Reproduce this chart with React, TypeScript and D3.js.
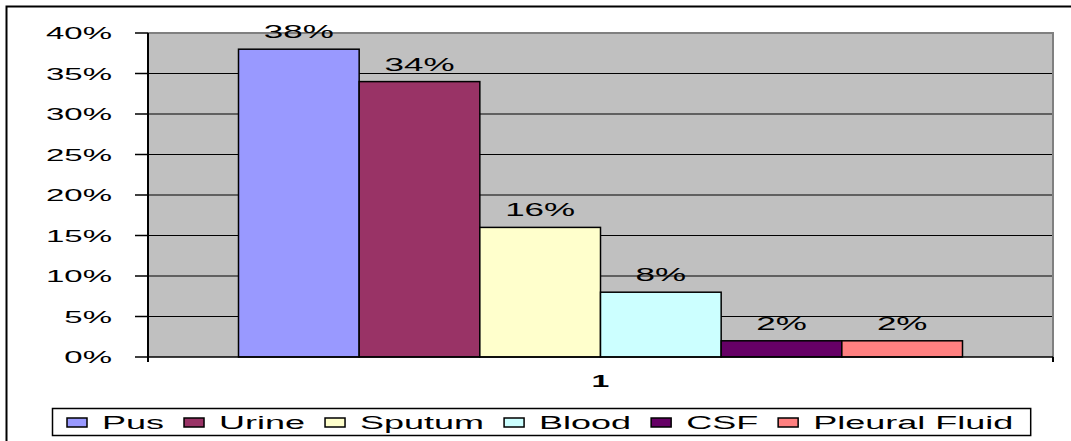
import * as d3 from "d3"
import { useEffect, useRef } from "react"

const series = ["Pus", "Urine", "Sputum", "Blood", "CSF", "Pleural Fluid"]
const values = [0.38, 0.34, 0.16, 0.08, 0.02, 0.02]
const colors = ["#9999FF", "#993366", "#FFFFCC", "#CCFFFF", "#660066", "#FF8080"]
const categories = ["1"]
const yTicks = [0, 0.05, 0.1, 0.15, 0.2, 0.25, 0.3, 0.35, 0.4]

const FONT = "'Liberation Sans', Arial, sans-serif"
// the source picture is stretched horizontally, so text is too
const SX = 2

const App = () => {
  const svgRef = useRef<SVGSVGElement | null>(null)

  useEffect(() => {
    if (!svgRef.current) return
    const svg = d3.select(svgRef.current)
    svg.selectAll("*").remove()

    const W = 1071
    const H = 441
    const plot = { left: 148, right: 1053, top: 33, bottom: 357 }

    // outer chart frame (runs off the right and bottom edges)
    svg
      .append("rect")
      .attr("x", 6.5)
      .attr("y", 6.5)
      .attr("width", W + 20)
      .attr("height", H + 20)
      .attr("fill", "#fff")
      .attr("stroke", "#000")
      .attr("stroke-width", 2)

    const x = d3
      .scaleBand()
      .domain(categories)
      .range([plot.left, plot.right])
      .padding(0)

    const xInner = d3
      .scaleBand()
      .domain(series)
      .range([0, x.bandwidth()])
      .paddingInner(0)
      .paddingOuter(0.75)

    const y = d3.scaleLinear().domain([0, 0.4]).range([plot.bottom, plot.top])

    // plot background
    svg
      .append("rect")
      .attr("x", plot.left)
      .attr("y", plot.top)
      .attr("width", plot.right - plot.left)
      .attr("height", plot.bottom - plot.top)
      .attr("fill", "#C0C0C0")

    // gridlines
    svg
      .append("g")
      .selectAll("line")
      .data(yTicks.filter((t) => t > 0 && t < 0.4))
      .enter()
      .append("line")
      .attr("x1", plot.left)
      .attr("x2", plot.right)
      .attr("y1", (d) => y(d))
      .attr("y2", (d) => y(d))
      .attr("stroke", "#000")
      .attr("stroke-width", 1.2)

    // plot border top & right
    svg
      .append("path")
      .attr(
        "d",
        `M${plot.left},${plot.top}H${plot.right}V${plot.bottom}`,
      )
      .attr("fill", "none")
      .attr("stroke", "#808080")
      .attr("stroke-width", 2)

    // bars
    svg
      .append("g")
      .selectAll("rect")
      .data(series.map((s, i) => ({ s, v: values[i], c: colors[i] })))
      .enter()
      .append("rect")
      .attr("x", (d) => x(categories[0])! + xInner(d.s)!)
      .attr("y", (d) => y(d.v))
      .attr("width", xInner.bandwidth())
      .attr("height", (d) => y(0) - y(d.v))
      .attr("fill", (d) => d.c)
      .attr("stroke", "#000")
      .attr("stroke-width", 1.5)

    // data labels
    svg
      .append("g")
      .selectAll("text")
      .data(series.map((s, i) => ({ s, v: values[i] })))
      .enter()
      .append("text")
      .attr(
        "transform",
        (d) =>
          `translate(${x(categories[0])! + xInner(d.s)! + xInner.bandwidth() / 2},${y(d.v) - 11}) scale(${SX},1)`,
      )
      .attr("text-anchor", "middle")
      .style("font", `17.5px ${FONT}`)
      .attr("fill", "#000")
      .text((d) => d3.format(".0%")(d.v))

    // y axis
    svg
      .append("line")
      .attr("x1", plot.left)
      .attr("x2", plot.left)
      .attr("y1", plot.top)
      .attr("y2", plot.bottom + 5)
      .attr("stroke", "#000")
      .attr("stroke-width", 2)

    const yAxis = svg.append("g")
    yAxis
      .selectAll("line")
      .data(yTicks)
      .enter()
      .append("line")
      .attr("x1", plot.left - 13)
      .attr("x2", plot.left)
      .attr("y1", (d) => y(d))
      .attr("y2", (d) => y(d))
      .attr("stroke", "#000")
      .attr("stroke-width", 1.5)
    yAxis
      .selectAll("text")
      .data(yTicks)
      .enter()
      .append("text")
      .attr("transform", (d) => `translate(${112},${y(d) + 6}) scale(${SX},1)`)
      .attr("text-anchor", "end")
      .style("font", `16.5px ${FONT}`)
      .attr("fill", "#000")
      .text((d) => d3.format(".0%")(d))

    // x axis
    svg
      .append("line")
      .attr("x1", plot.left)
      .attr("x2", plot.right)
      .attr("y1", plot.bottom)
      .attr("y2", plot.bottom)
      .attr("stroke", "#000")
      .attr("stroke-width", 1.5)
    svg
      .append("g")
      .selectAll("line")
      .data([plot.left, plot.right])
      .enter()
      .append("line")
      .attr("x1", (d) => d)
      .attr("x2", (d) => d)
      .attr("y1", plot.bottom)
      .attr("y2", plot.bottom + 5)
      .attr("stroke", "#000")
      .attr("stroke-width", 2)
    svg
      .append("g")
      .selectAll("text")
      .data(categories)
      .enter()
      .append("text")
      .attr(
        "transform",
        (d) => `translate(${x(d)! + x.bandwidth() / 2},${plot.bottom + 30}) scale(${SX},1)`,
      )
      .attr("text-anchor", "middle")
      .style("font", `bold 16px ${FONT}`)
      .attr("fill", "#000")
      .text((d) => d)

    // legend
    const lg = { x: 52, y: 408, h: 27 }
    const legendBox = svg
      .append("rect")
      .attr("x", lg.x + 0.5)
      .attr("y", lg.y + 0.5)
      .attr("height", lg.h)
      .attr("fill", "#fff")
      .attr("stroke", "#000")
      .attr("stroke-width", 1.5)

    const legend = svg.append("g")
    let cx = lg.x + 15
    series.forEach((s, i) => {
      legend
        .append("rect")
        .attr("x", cx)
        .attr("y", lg.y + 10)
        .attr("width", 20)
        .attr("height", 9)
        .attr("fill", colors[i])
        .attr("stroke", "#000")
        .attr("stroke-width", 1.5)
      const t = legend
        .append("text")
        .attr("transform", `translate(${cx + 35},${lg.y + 21}) scale(${SX},1)`)
        .style("font", `18px ${FONT}`)
        .attr("fill", "#000")
        .text(s)
      const w = (t.node() as SVGTextElement).getComputedTextLength() * SX
      cx += 35 + w + 20
    })
    legendBox.attr("width", cx - 20 + 17 - lg.x)
  }, [])

  return (
    <svg
      ref={svgRef}
      width={1071}
      height={441}
      style={{ position: "absolute", left: 0, top: 0, background: "#fff" }}
    />
  )
}

export default App
